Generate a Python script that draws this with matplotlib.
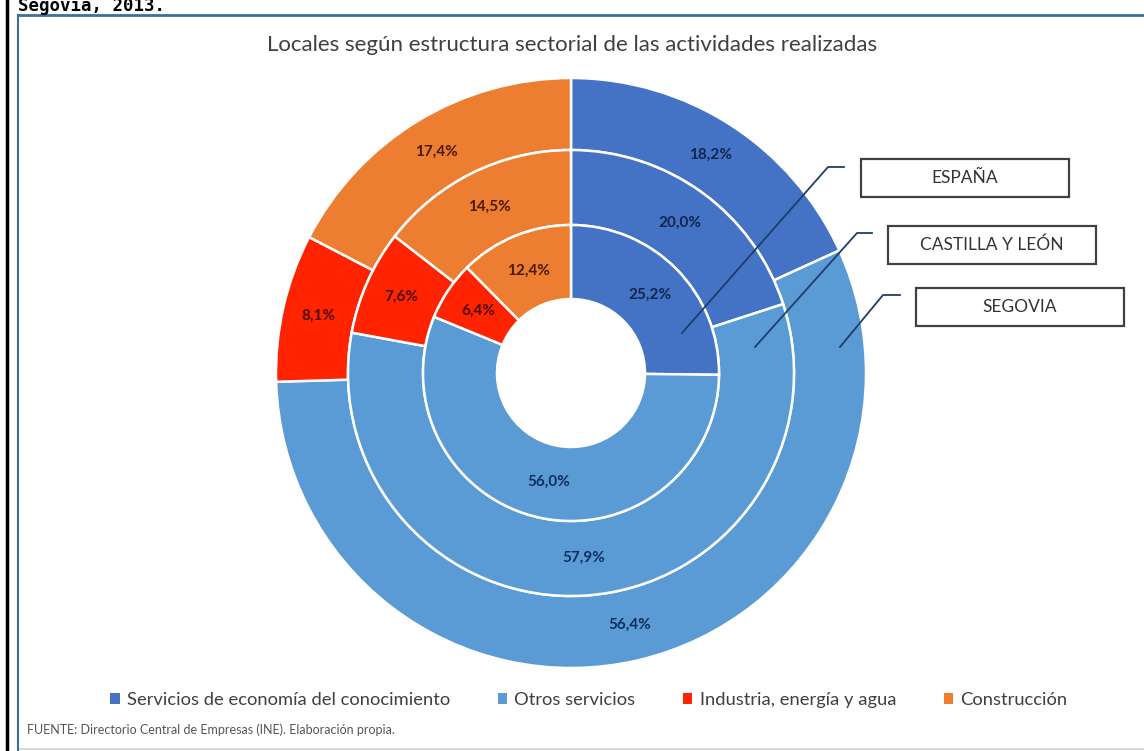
import matplotlib
matplotlib.use("Agg")
import matplotlib.pyplot as plt
from matplotlib.patches import Rectangle
from matplotlib.lines import Line2D
import numpy as np

# ---- data ----
categories = ["Servicios de economía del conocimiento", "Otros servicios",
              "Industria, energía y agua", "Construcción"]
espana = [25.2, 56.0, 6.4, 12.4]
castilla_leon = [20.0, 57.9, 7.6, 14.5]
segovia = [18.2, 56.4, 8.1, 17.4]
ring_names = ["ESPAÑA", "CASTILLA Y LEÓN", "SEGOVIA"]
title = "Locales según estructura sectorial de las actividades realizadas"
source = "FUENTE: Directorio Central de Empresas (INE). Elaboración propia."
header = "Segovia, 2013."

colors = ["#4472C4", "#5B9BD5", "#FF2300", "#ED7D31"]
label_colors = ["#10264d", "#0e2f5c", "#4a0f00", "#4a1a00"]

W, H = 1144, 751
fig = plt.figure(figsize=(W / 100, H / 100), dpi=100)
fig.patch.set_facecolor("white")

def fx(px):
    return px / W

def fy(py):
    return 1 - py / H

# frames
fig.add_artist(Line2D([fx(7), fx(7)], [0, 1], color="black", lw=2.5, transform=fig.transFigure))
fig.add_artist(Line2D([fx(18), fx(18)], [fy(15), 0], color="#3f6f96", lw=1.5, transform=fig.transFigure))
fig.add_artist(Line2D([fx(18), 1], [fy(15), fy(15)], color="#3f6f96", lw=2, transform=fig.transFigure))
fig.add_artist(Line2D([fx(20), 1], [fy(749), fy(749)], color="#d8d8d8", lw=1.5, transform=fig.transFigure))

fig.text(fx(18), fy(11), header, family="DejaVu Sans Mono", fontweight="bold",
         fontsize=12.5, color="black", ha="left", va="baseline")

# pie axes centred at (571,373) px with radius 295 px
cx, cy, R = 571, 373, 295
ax = fig.add_axes([fx(cx - R), fy(cy + R), 2 * R / W, 2 * R / H])

rings = [(segovia, 295, 223), (castilla_leon, 223, 148), (espana, 148, 74)]
for vals, rout, rin in rings:
    r = rout / R
    w = (rout - rin) / R
    wedges, _ = ax.pie(vals, radius=r, colors=colors, startangle=90, counterclock=False,
                       wedgeprops=dict(width=w, edgecolor="white", linewidth=1.8))
    rm = r - w / 2
    for i, (wd, v) in enumerate(zip(wedges, vals)):
        ang = np.deg2rad((wd.theta1 + wd.theta2) / 2)
        ax.text(rm * np.cos(ang), rm * np.sin(ang), f"{v:.1f}%".replace(".", ","),
                ha="center", va="center", fontsize=11, fontweight="bold",
                family="Lato", color=label_colors[i])

ax.set_xlim(-1, 1)
ax.set_ylim(-1, 1)
ax.set_aspect("equal")
ax.axis("off")

def d(px, py):
    return ((px - cx) / R, (cy - py) / R)

# leader lines
leaders = [[(682, 333), (828, 167), (844, 167)],
           [(755, 347), (857, 233), (872, 233)],
           [(840, 347), (883, 295), (900, 295)]]
for pts in leaders:
    xs, ys = zip(*[d(*p) for p in pts])
    ax.add_line(Line2D(xs, ys, color="#1f3d6b", lw=1.3, clip_on=False))

boxes = [(861, 159, 1069, 197), (888, 226, 1096, 264), (916, 288, 1124, 326)]
for name, (x0, y0, x1, y1) in zip(ring_names, boxes):
    fig.add_artist(Rectangle((fx(x0), fy(y1)), fx(x1 - x0), (y1 - y0) / H,
                             facecolor="white", edgecolor="#404040", lw=1.6,
                             transform=fig.transFigure))
    fig.text(fx((x0 + x1) / 2), fy((y0 + y1) / 2), name, ha="center", va="center",
             fontsize=12.5, family="Lato", color="#333333")

fig.text(fx(572), fy(45), title, ha="center", va="center", fontsize=16,
         family="Lato", color="#404040")

handles = [Rectangle((0, 0), 1, 1, facecolor=c, edgecolor="none") for c in colors]
fig.legend(handles, categories, loc="center", bbox_to_anchor=(fx(589), fy(700)),
           ncol=4, frameon=False, handlelength=0.5, handleheight=0.5,
           handletextpad=0.4, columnspacing=2.6,
           prop=dict(family="Lato", size=13.2), labelcolor="#404040")

fig.text(fx(27), fy(730), source, ha="left", va="center", fontsize=9,
         family="Lato", color="#555555")

fig.savefig("out.png", dpi=100, facecolor="white")
